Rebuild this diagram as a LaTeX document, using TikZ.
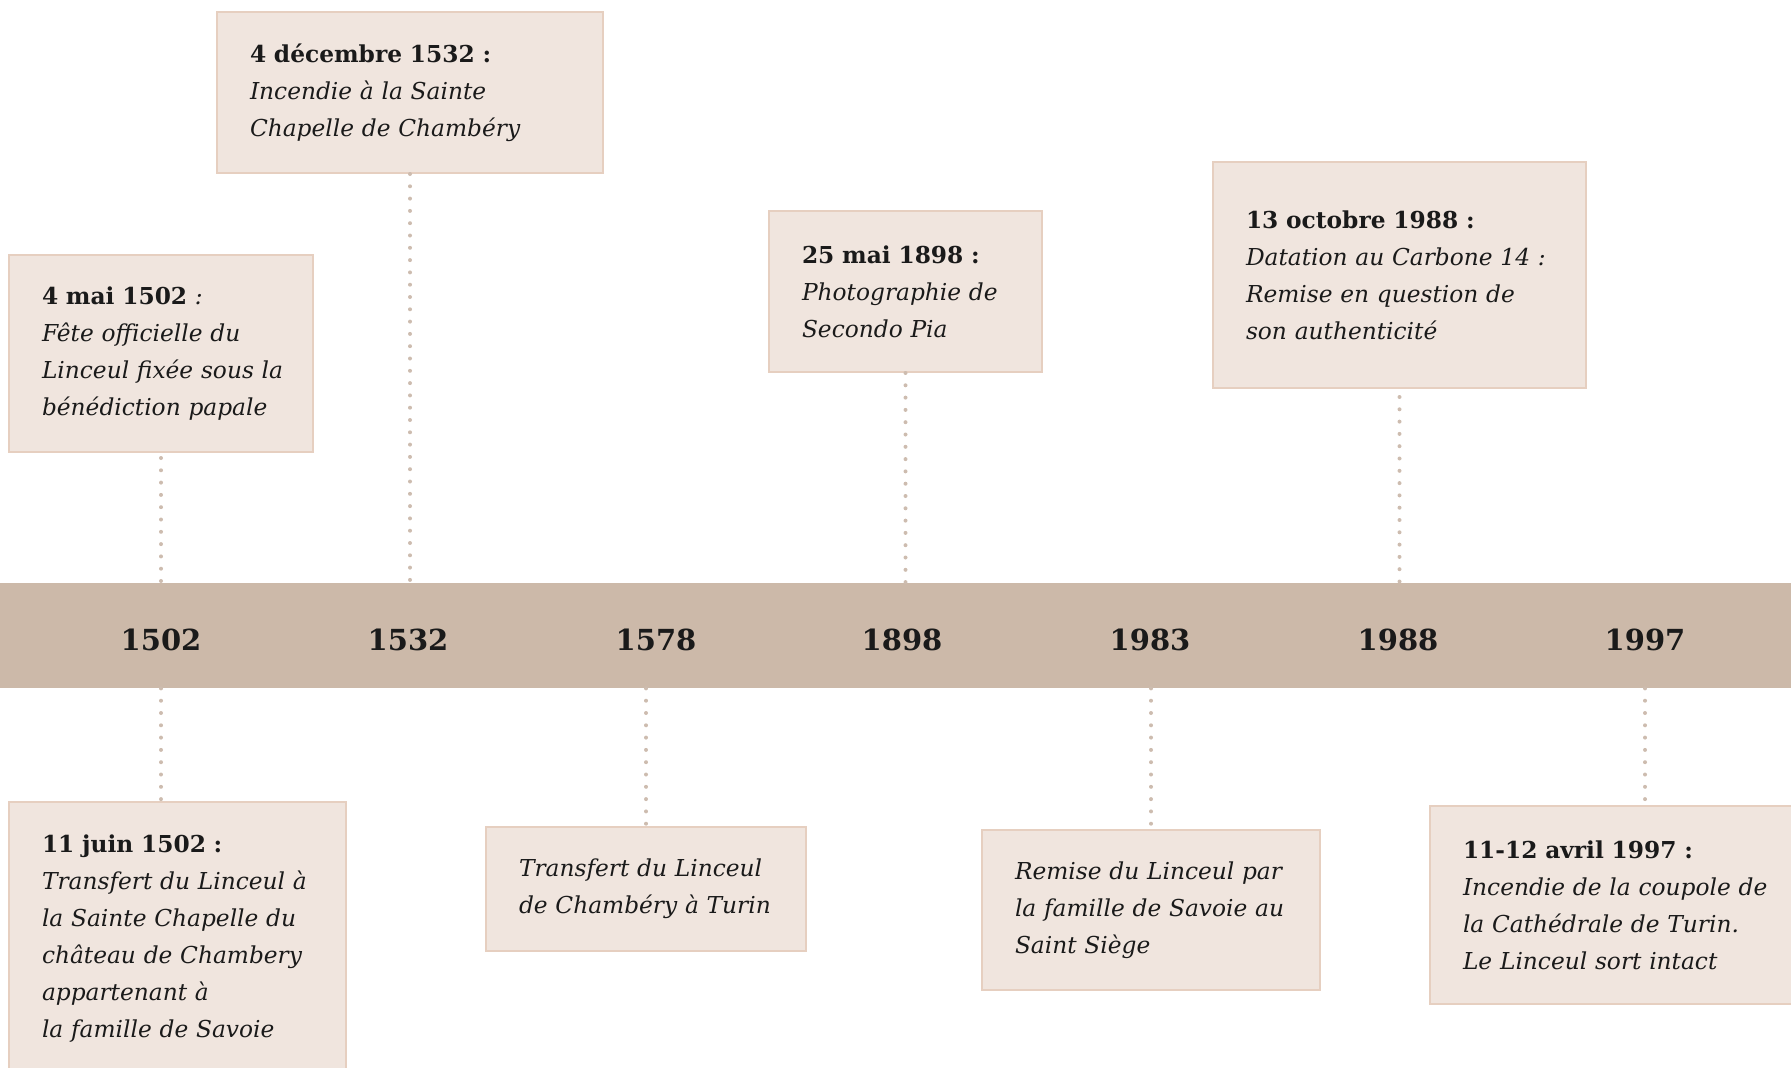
\documentclass[tikz,border=0pt]{standalone}
\usepackage{fontspec}
\setmainfont{DejaVu Serif}
\definecolor{bandcol}{HTML}{CCB9A9}
\definecolor{boxfill}{HTML}{F0E5DE}
\definecolor{boxline}{HTML}{E6CFC0}
\definecolor{dotcol}{HTML}{CDBCAF}
\definecolor{txt}{HTML}{1A1A1A}
\tikzset{
  evbox/.style={draw=boxline, line width=2pt, fill=boxfill, anchor=north west,
    inner xsep=33pt, inner ysep=0pt, align=left, text=txt,
    font=\fontsize{23.3}{37}\selectfont},
  yearlbl/.style={font=\bfseries\fontsize{29}{32}\selectfont, text=txt, inner sep=0pt},
  dotl/.style={draw=dotcol, line width=4pt, line cap=round, dash pattern=on 0pt off 12.3pt},
  bandbar/.style={fill=bandcol, draw=none, anchor=north west, inner sep=0pt,
    minimum width=1791pt, minimum height=105pt}
}
\newcommand{\dt}[1]{\textbf{#1}}
\newcommand{\itl}[1]{\mbox{\textit{#1}}}
\begin{document}
\begin{tikzpicture}[x=1pt,y=-1pt]
\useasboundingbox (0,0) rectangle (1791,1068);
% band
\node[bandbar] (band) at (0,583) {};
\node[yearlbl] (y1502) at (161,640) {1502};
\node[yearlbl] (y1532) at (408,640) {1532};
\node[yearlbl] (y1578) at (656,640) {1578};
\node[yearlbl] (y1898) at (902,640) {1898};
\node[yearlbl] (y1983) at (1150,640) {1983};
\node[yearlbl] (y1988) at (1398,640) {1988};
\node[yearlbl] (y1997) at (1645,640) {1997};
% top boxes
\node[evbox, text width=320pt, minimum height=161pt] (b1532) at (216,11)
  {\dt{4 décembre 1532 :}\\\itl{Incendie à la Sainte}\\\itl{Chapelle de Chambéry}};
\node[evbox, text width=238pt, minimum height=197pt] (b1502) at (8,254)
  {\dt{4 mai 1502} \textit{:}\\\itl{Fête officielle du}\\\itl{Linceul fixée sous la}\\\itl{bénédiction papale}};
\node[evbox, text width=207pt, minimum height=161pt] (b1898) at (768,210)
  {\dt{25 mai 1898 :}\\\itl{Photographie de}\\\itl{Secondo Pia}};
\node[evbox, text width=307pt, minimum height=226pt] (b1988) at (1212,161)
  {\dt{13 octobre 1988 :}\\\itl{Datation au Carbone 14 :}\\\itl{Remise en question de}\\\itl{son authenticité}};
% bottom boxes
\node[evbox, text width=271pt, minimum height=274pt] (b1502b) at (8,801)
  {\dt{11 juin 1502 :}\\\itl{Transfert du Linceul à}\\\itl{la Sainte Chapelle du}\\\itl{château de Chambery}\\\itl{appartenant à}\\\itl{la famille de Savoie}};
\node[evbox, text width=254pt, minimum height=124pt] (b1578) at (485,826)
  {\itl{Transfert du Linceul}\\\itl{de Chambéry à Turin}};
\node[evbox, text width=272pt, minimum height=160pt] (b1983) at (981,829)
  {\itl{Remise du Linceul par}\\\itl{la famille de Savoie au}\\\itl{Saint Siège}};
\node[evbox, text width=366pt, minimum height=198pt] (b1997) at (1429,805)
  {\dt{11-12 avril 1997 :}\\\itl{Incendie de la coupole de}\\\itl{la Cathédrale de Turin.}\\\itl{Le Linceul sort intact}};
% connectors
\draw[dotl] ([yshift=-5pt]y1502 |- b1502.south) -- (y1502 |- band.north);
\draw[dotl] (b1532.south) -- (b1532.south |- band.north);
\draw[dotl] (b1898.south) -- (b1898.south |- band.north);
\draw[dotl] ([yshift=-8pt]b1988.south) -- (b1988.south |- band.north);
\draw[dotl] (y1502 |- band.south) -- (y1502 |- b1502b.north);
\draw[dotl] (b1578.north |- band.south) -- (b1578.north);
\draw[dotl] (b1983.north |- band.south) -- (b1983.north);
\draw[dotl] (y1997 |- band.south) -- (y1997 |- b1997.north);
\end{tikzpicture}
\end{document}
